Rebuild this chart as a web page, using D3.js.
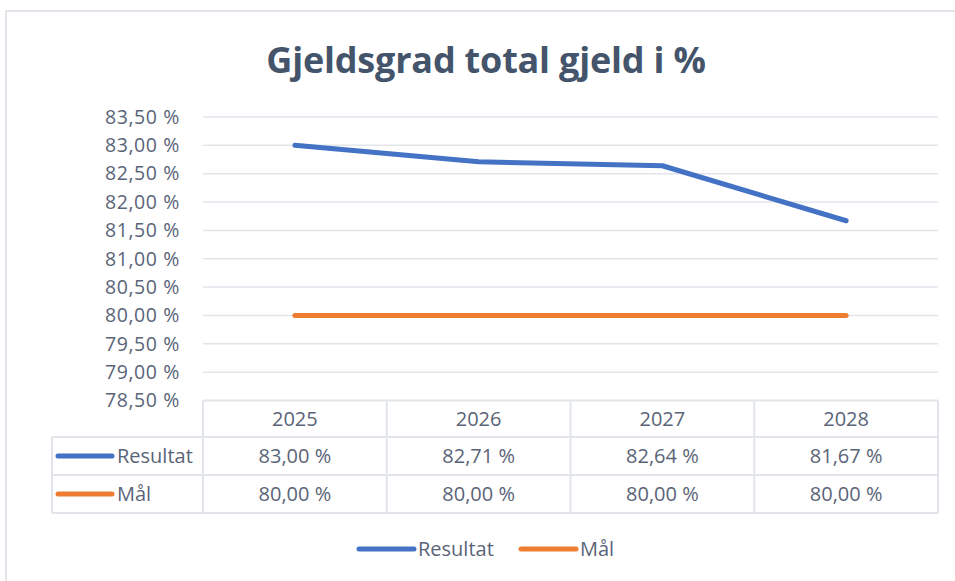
<!DOCTYPE html>
<html><head><meta charset="utf-8">
<script src="https://cdn.jsdelivr.net/npm/d3@7"></script>
<style>body{margin:0;background:#fff}svg{display:block}</style>
</head><body>
<svg id="c" width="955" height="581"></svg>
<script>
const title = "Gjeldsgrad total gjeld i %";
const years = ["2025", "2026", "2027", "2028"];
const resultat = [83.00, 82.71, 82.64, 81.67];
const maal = [80.00, 80.00, 80.00, 80.00];
const yTicks = [78.5, 79.0, 79.5, 80.0, 80.5, 81.0, 81.5, 82.0, 82.5, 83.0, 83.5];
const seriesNames = ["Resultat", "Mål"];
const colors = ["#4472C4", "#ED7D31"];

const svg = d3.select("#c");
const textCol = "#5a6478";
const gridCol = "#e1e5ea";
const font = "'Open Sans', 'Noto Sans', sans-serif";
const fs = 20;
const fmt = v => d3.format(".2f")(v).replace(".", ",") + " %";

// outer border
svg.append("rect").attr("x", 6).attr("y", 11).attr("width", 1000).attr("height", 600)
  .attr("fill", "none").attr("stroke", gridCol).attr("stroke-width", 2);

svg.append("text").attr("x", 486).attr("y", 73).attr("text-anchor", "middle")
  .attr("font-family", font).attr("font-weight", 700).attr("font-size", 36)
  .attr("letter-spacing", -0.2)
  .attr("fill", "#44546A").text(title);

const pLeft = 203, pRight = 938, pTop = 117, pBottom = 400.5;
const x = d3.scaleBand().domain(years).range([pLeft, pRight]);
const y = d3.scaleLinear().domain([78.5, 83.5]).range([pBottom, pTop]);

// gridlines
svg.append("g").selectAll("line").data(yTicks.slice(1)).join("line")
  .attr("x1", pLeft).attr("x2", pRight)
  .attr("y1", d => y(d)).attr("y2", d => y(d))
  .attr("stroke", gridCol).attr("stroke-width", 1.5);

// y axis labels
const yAxis = svg.append("g").attr("transform", `translate(${pLeft},0)`)
  .call(d3.axisLeft(y).tickValues(yTicks).tickFormat(fmt).tickSize(0).tickPadding(23));
yAxis.select(".domain").remove();
yAxis.selectAll("text").attr("font-family", font).attr("font-size", 19.5)
  .attr("fill", textCol).attr("letter-spacing", 0.6);

// lines
const line = d3.line().x((d, i) => x(years[i]) + x.bandwidth() / 2).y(d => y(d));
[resultat, maal].forEach((s, k) => {
  svg.append("path").datum(s).attr("d", line).attr("fill", "none")
    .attr("stroke", colors[k]).attr("stroke-width", 5)
    .attr("stroke-linecap", "round").attr("stroke-linejoin", "round");
});

// data table
const tLeft = 52, rowH = [400.5, 437, 475, 513];
const tb = svg.append("g").attr("stroke", gridCol).attr("stroke-width", 2).attr("fill", "none");
tb.append("line").attr("x1", pLeft).attr("x2", pRight).attr("y1", rowH[0]).attr("y2", rowH[0]);
[1, 2, 3].forEach(i => tb.append("line").attr("x1", tLeft).attr("x2", pRight).attr("y1", rowH[i]).attr("y2", rowH[i]));
tb.append("line").attr("x1", tLeft).attr("x2", tLeft).attr("y1", rowH[1]).attr("y2", rowH[3]);
years.forEach(yr => tb.append("line").attr("x1", x(yr)).attr("x2", x(yr)).attr("y1", rowH[0]).attr("y2", rowH[3]));
tb.append("line").attr("x1", pRight).attr("x2", pRight).attr("y1", rowH[0]).attr("y2", rowH[3]);

const tt = svg.append("g").attr("font-family", font).attr("font-size", fs).attr("fill", textCol).attr("text-anchor", "middle");
years.forEach(yr => tt.append("text").attr("x", x(yr) + x.bandwidth() / 2).attr("y", (rowH[0] + rowH[1]) / 2).attr("dy", "0.35em").text(yr));
[resultat, maal].forEach((s, k) => {
  s.forEach((v, i) => tt.append("text").attr("x", x(years[i]) + x.bandwidth() / 2)
    .attr("y", (rowH[k + 1] + rowH[k + 2]) / 2).attr("dy", "0.35em").text(fmt(v)));
  const cy = (rowH[k + 1] + rowH[k + 2]) / 2;
  svg.append("line").attr("x1", 58).attr("x2", 112).attr("y1", cy).attr("y2", cy)
    .attr("stroke", colors[k]).attr("stroke-width", 5).attr("stroke-linecap", "round");
  svg.append("text").attr("x", 117).attr("y", cy).attr("dy", "0.35em")
    .attr("font-family", font).attr("font-size", fs).attr("fill", textCol).text(seriesNames[k]);
});

// legend
const legX = [359, 521];
seriesNames.forEach((n, k) => {
  svg.append("line").attr("x1", legX[k]).attr("x2", legX[k] + 55).attr("y1", 549).attr("y2", 549)
    .attr("stroke", colors[k]).attr("stroke-width", 5).attr("stroke-linecap", "round");
  svg.append("text").attr("x", legX[k] + 59).attr("y", 549).attr("dy", "0.35em")
    .attr("font-family", font).attr("font-size", fs).attr("fill", textCol).text(n);
});
</script>
</body></html>
